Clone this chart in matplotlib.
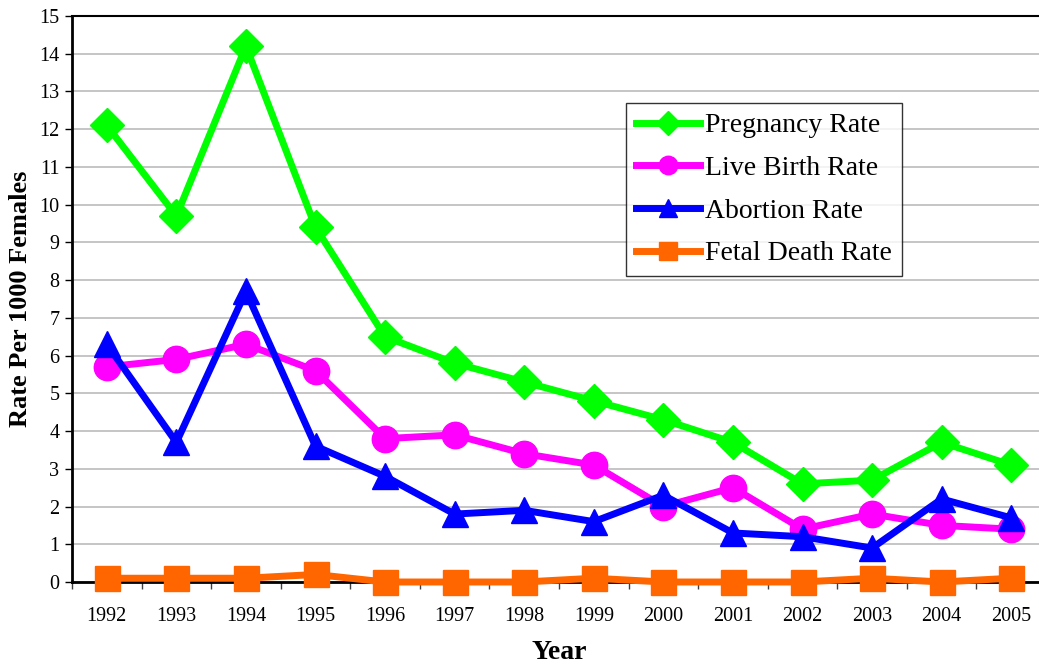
import numpy as np
import matplotlib
matplotlib.use("Agg")
import matplotlib.pyplot as plt

years = ["1992", "1993", "1994", "1995", "1996", "1997", "1998",
         "1999", "2000", "2001", "2002", "2003", "2004", "2005"]
pregnancy = [12.1, 9.7, 14.2, 9.4, 6.5, 5.8, 5.3, 4.8, 4.3, 3.7, 2.6, 2.7, 3.7, 3.1]
live_birth = [5.7, 5.9, 6.3, 5.6, 3.8, 3.9, 3.4, 3.1, 2.0, 2.5, 1.4, 1.8, 1.5, 1.4]
abortion = [6.3, 3.7, 7.7, 3.6, 2.8, 1.8, 1.9, 1.6, 2.3, 1.3, 1.2, 0.9, 2.2, 1.7]
fetal_death = [0.1, 0.1, 0.1, 0.2, 0.0, 0.0, 0.0, 0.1, 0.0, 0.0, 0.0, 0.1, 0.0, 0.1]

plt.rcParams['font.family'] = ['Liberation Serif', 'DejaVu Serif']

fig = plt.figure(figsize=(10.39, 6.69), dpi=100)
ax = fig.add_axes([72/1039, 87/669, 974/1039, 566/669])

x = np.arange(len(years))
series = [
    (pregnancy, "Pregnancy Rate", "#00FF00", "D", 17),
    (live_birth, "Live Birth Rate", "#FF00FF", "o", 19),
    (abortion, "Abortion Rate", "#0000FF", "^", 19),
    (fetal_death, "Fetal Death Rate", "#FF6600", "s", 18),
]
for vals, label, col, mk, ms in series:
    ax.plot(x, vals, color=col, lw=5, marker=mk, markersize=ms,
            markerfacecolor=col, markeredgecolor=col, label=label,
            clip_on=False, zorder=3)

ax.set_xlim(-0.5, 13.5)
ax.set_ylim(0, 15)
ax.set_yticks(range(0, 16))
ax.set_xticks(x)
ax.set_xticklabels(years)
ax.set_xticks(np.arange(-0.5, 14, 1), minor=True)
ax.tick_params(axis='x', which='major', length=0, pad=18, labelsize=14.5)
ax.tick_params(axis='x', which='minor', length=5, width=1, color='#404040')
ax.tick_params(axis='y', length=5, width=1, labelsize=14.5, pad=4)

ax.grid(axis='y', color='#C0C0C0', lw=1.3, zorder=0)
ax.set_axisbelow(True)
for s in ['left', 'bottom']:
    ax.spines[s].set_linewidth(2)
ax.spines['top'].set_linewidth(1.5)
ax.spines['right'].set_visible(False)

ax.set_xlabel("Year", fontsize=20, fontweight='bold', labelpad=10)
ax.set_ylabel("Rate Per 1000 Females", fontsize=19, fontweight='bold', labelpad=5)

leg = ax.legend(loc='upper left', bbox_to_anchor=(0.569, 0.846), fontsize=20,
                frameon=True, fancybox=False, edgecolor='black',
                handlelength=2.3, markerscale=0.7, borderpad=0.35,
                labelspacing=0.62, handletextpad=0.2, borderaxespad=0)
leg.get_frame().set_linewidth(1)

fig.savefig("out.png", dpi=100)
